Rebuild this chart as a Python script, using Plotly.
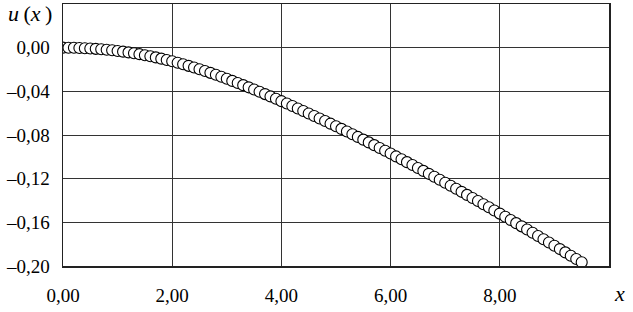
import plotly.graph_objects as go

x_vals = [0.0, 0.1, 0.2, 0.3, 0.4, 0.5, 0.6, 0.7, 0.8, 0.9,
          1.0, 1.1, 1.2, 1.3, 1.4, 1.5, 1.6, 1.7, 1.8, 1.9,
          2.0, 2.1, 2.2, 2.3, 2.4, 2.5, 2.6, 2.7, 2.8, 2.9,
          3.0, 3.1, 3.2, 3.3, 3.4, 3.5, 3.6, 3.7, 3.8, 3.9,
          4.0, 4.1, 4.2, 4.3, 4.4, 4.5, 4.6, 4.7, 4.8, 4.9,
          5.0, 5.1, 5.2, 5.3, 5.4, 5.5, 5.6, 5.7, 5.8, 5.9,
          6.0, 6.1, 6.2, 6.3, 6.4, 6.5, 6.6, 6.7, 6.8, 6.9,
          7.0, 7.1, 7.2, 7.3, 7.4, 7.5, 7.6, 7.7, 7.8, 7.9,
          8.0, 8.1, 8.2, 8.3, 8.4, 8.5, 8.6, 8.7, 8.8, 8.9,
          9.0, 9.1, 9.2, 9.3, 9.4, 9.5]

u_vals = [0.0, -0.00003, -0.00012, -0.00027, -0.00048, -0.00075, -0.00108, -0.00147, -0.00192, -0.00243,
          -0.00300, -0.00364, -0.00434, -0.00512, -0.00596, -0.00688, -0.00786, -0.00892, -0.01004, -0.01124,
          -0.01250, -0.01383, -0.01522, -0.01667, -0.01818, -0.01975, -0.02138, -0.02307, -0.02482, -0.02663,
          -0.02850, -0.03042, -0.03236, -0.03434, -0.03634, -0.03838, -0.04044, -0.04254, -0.04466, -0.04682,
          -0.04900, -0.05121, -0.05344, -0.05569, -0.05796, -0.06025, -0.06256, -0.06489, -0.06724, -0.06961,
          -0.07200, -0.07441, -0.07684, -0.07929, -0.08176, -0.08425, -0.08676, -0.08929, -0.09184, -0.09441,
          -0.09700, -0.09961, -0.10223, -0.10487, -0.10752, -0.11019, -0.11287, -0.11557, -0.11828, -0.12101,
          -0.12375, -0.12651, -0.12928, -0.13207, -0.13487, -0.13769, -0.14052, -0.14337, -0.14623, -0.14911,
          -0.15200, -0.15491, -0.15782, -0.16075, -0.16368, -0.16663, -0.16958, -0.17255, -0.17552, -0.17851,
          -0.18150, -0.18451, -0.18752, -0.19055, -0.19358, -0.19663]

x_tickvals = [0, 2, 4, 6, 8]
x_ticktext = ["0,00", "2,00", "4,00", "6,00", "8,00"]
y_tickvals = [0.0, -0.04, -0.08, -0.12, -0.16, -0.20]
y_ticktext = ["0,00", "\u20130,04", "\u20130,08", "\u20130,12", "\u20130,16", "\u20130,20"]

FONT = "Liberation Serif, Times New Roman, DejaVu Serif, serif"

fig = go.Figure()
fig.add_trace(go.Scatter(
    x=x_vals, y=u_vals, mode="markers",
    marker=dict(symbol="circle", size=11, color="white",
                line=dict(color="black", width=1.1)),
    showlegend=False,
))

axis_common = dict(
    showgrid=True, gridcolor="#333333", gridwidth=1,
    showline=True, linecolor="#222", linewidth=1.5, mirror=True,
    zeroline=False, automargin=False,
    tickfont=dict(family=FONT, size=19, color="black"),
    ticks="outside", tickcolor="rgba(0,0,0,0)",
)

fig.update_xaxes(range=[0, 10], tickvals=x_tickvals, ticktext=x_ticktext,
                 ticklen=12, **axis_common)
fig.update_yaxes(range=[-0.20, 0.04], tickvals=y_tickvals, ticktext=y_ticktext,
                 ticklen=8, **axis_common)

fig.add_annotation(text="<i>u</i>\u2009(<i>x</i>\u2009)", xref="paper", yref="paper",
                   x=0, y=1, xshift=-9, yshift=-9, xanchor="right", yanchor="middle",
                   showarrow=False, font=dict(family=FONT, size=22, color="black"))
fig.add_annotation(text="<i>x</i>", xref="paper", yref="paper",
                   x=1, y=0, xshift=10, yshift=-27, xanchor="center", yanchor="middle",
                   showarrow=False, font=dict(family=FONT, size=22, color="black"))

fig.update_layout(
    width=633, height=312,
    margin=dict(l=63, r=24, t=4, b=46),
    paper_bgcolor="white", plot_bgcolor="white",
)

fig.write_html("out.html", config={"displayModeBar": False, "staticPlot": True},
               post_script="document.body.style.margin='0';document.body.style.padding='0';document.body.style.overflow='hidden';")
